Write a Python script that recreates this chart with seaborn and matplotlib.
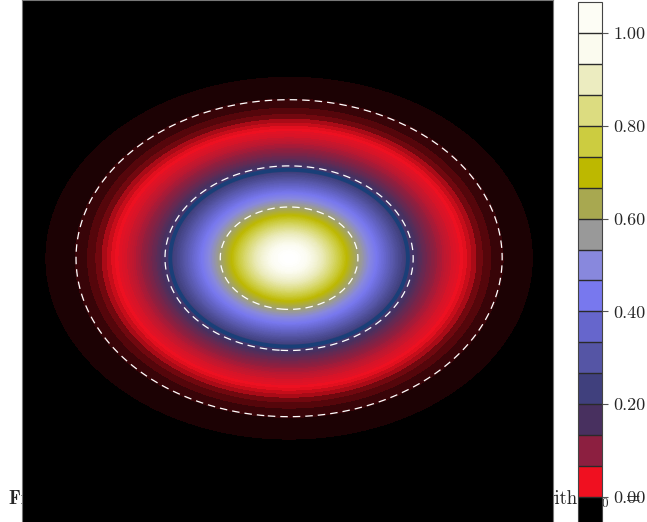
import numpy as np
import matplotlib
matplotlib.use("Agg")
import matplotlib.pyplot as plt
import seaborn as sns
from matplotlib.colors import LinearSegmentedColormap, ListedColormap, BoundaryNorm, Normalize
from matplotlib.cm import ScalarMappable

# wave packet parameters (axis units)
center_x, center_y = 0.03, 0.11
sigma_x, sigma_y = 1.27, 0.95
x_range = (-5.0, 5.0)
y_range = (-5.0, 5.0)

# filled levels and highlighted contours
fill_start, fill_step = 0.0015, 0.005
dashed_levels = [0.0068, 0.184, 0.594]
thick_level = [0.212]

# colorbar bands (bottom to top)
band_bounds = [-1/15, 0, 1/15, 2/15, 3/15, 4/15, 5/15, 6/15, 7/15, 8/15,
               9/15, 10/15, 11/15, 12/15, 13/15, 14/15, 1.0, 16/15]
band_colors = ['#000000', '#f01020', '#8c1f40', '#48305f', '#40407d', '#5555a5',
               '#6666cc', '#7878ee', '#8888dd', '#999999', '#a8a850', '#bdb800',
               '#cccc40', '#dcdc80', '#ececc0', '#fbfbef', '#fdfdf5']
cbar_ticks = [0.0, 0.2, 0.4, 0.6, 0.8, 1.0]

# continuous colormap for the density image
cmap_pos = [0.0, 1/30, 3/30, 5/30, 7/30, 9/30, 11/30, 13/30, 15/30, 17/30,
            19/30, 21/30, 23/30, 25/30, 27/30, 29/30, 1.0]
cmap_cols = ['#000000', '#f01020', '#8c1f40', '#48305f', '#40407d', '#5555a5',
             '#6666cc', '#7878ee', '#8888dd', '#999999', '#a8a850', '#bdb800',
             '#cccc40', '#dcdc80', '#ececc0', '#fbfbef', '#ffffff']

sns.set_theme(style="white")
plt.rcParams['font.family'] = ['cmr10', 'DejaVu Serif']
plt.rcParams['mathtext.fontset'] = 'cm'
plt.rcParams['axes.formatter.use_mathtext'] = True

cmap = LinearSegmentedColormap.from_list('packet', list(zip(cmap_pos, cmap_cols)))

x = np.linspace(x_range[0], x_range[1], 500)
y = np.linspace(y_range[0], y_range[1], 500)
X, Y = np.meshgrid(x, y)
Z = np.exp(-0.5 * (((X - center_x) / sigma_x) ** 2 + ((Y - center_y) / sigma_y) ** 2))

fig = plt.figure(figsize=(6.47, 5.22), dpi=100)

# caption of the page, partly hidden behind the plot
fig.text(9/647, 0.034, 'Figure 3:', fontsize=13.5, family=['cmb10', 'DejaVu Serif'],
         zorder=-5)
fig.text(542/647, 0.034, 'with', fontsize=13.5, zorder=-5)
fig.text(589/647, 0.034, r'$\psi_0\;\;\:=$', fontsize=13.5, zorder=-5)

ax = fig.add_axes([22/647, -6/522, 531/647, 528/522])
ax.set_facecolor('black')
levels = np.arange(fill_start, 1.0 + fill_step, fill_step)
ax.contourf(X, Y, Z, levels=levels, cmap=cmap, norm=Normalize(0, 1))
ax.contour(X, Y, Z, levels=dashed_levels, colors='white', linewidths=0.9,
           linestyles=[(0, (6, 4))])
ax.contour(X, Y, Z, levels=thick_level, colors='#1a3f78', linewidths=2.8)
ax.set_xlim(*x_range)
ax.set_ylim(*y_range)
ax.set_xticks([])
ax.set_yticks([])
for s in ax.spines.values():
    s.set_color('#777777')
    s.set_linewidth(0.8)

cax = fig.add_axes([578/647, -6/522, 24/647, 526/522])
sm = ScalarMappable(norm=BoundaryNorm(band_bounds, len(band_colors)),
                    cmap=ListedColormap(band_colors))
cb = fig.colorbar(sm, cax=cax, ticks=cbar_ticks, format='%.2f', drawedges=True)
cb.minorticks_off()
cb.dividers.set_color('#2a2a2a')
cb.dividers.set_linewidth(1.0)
cb.outline.set_edgecolor('#444444')
cb.outline.set_linewidth(0.8)
cax.tick_params(which='minor', length=0)
cax.tick_params(right=True, length=4, width=0.8, color='#555555', labelsize=13, pad=4)

fig.savefig('out.png', dpi=100)
